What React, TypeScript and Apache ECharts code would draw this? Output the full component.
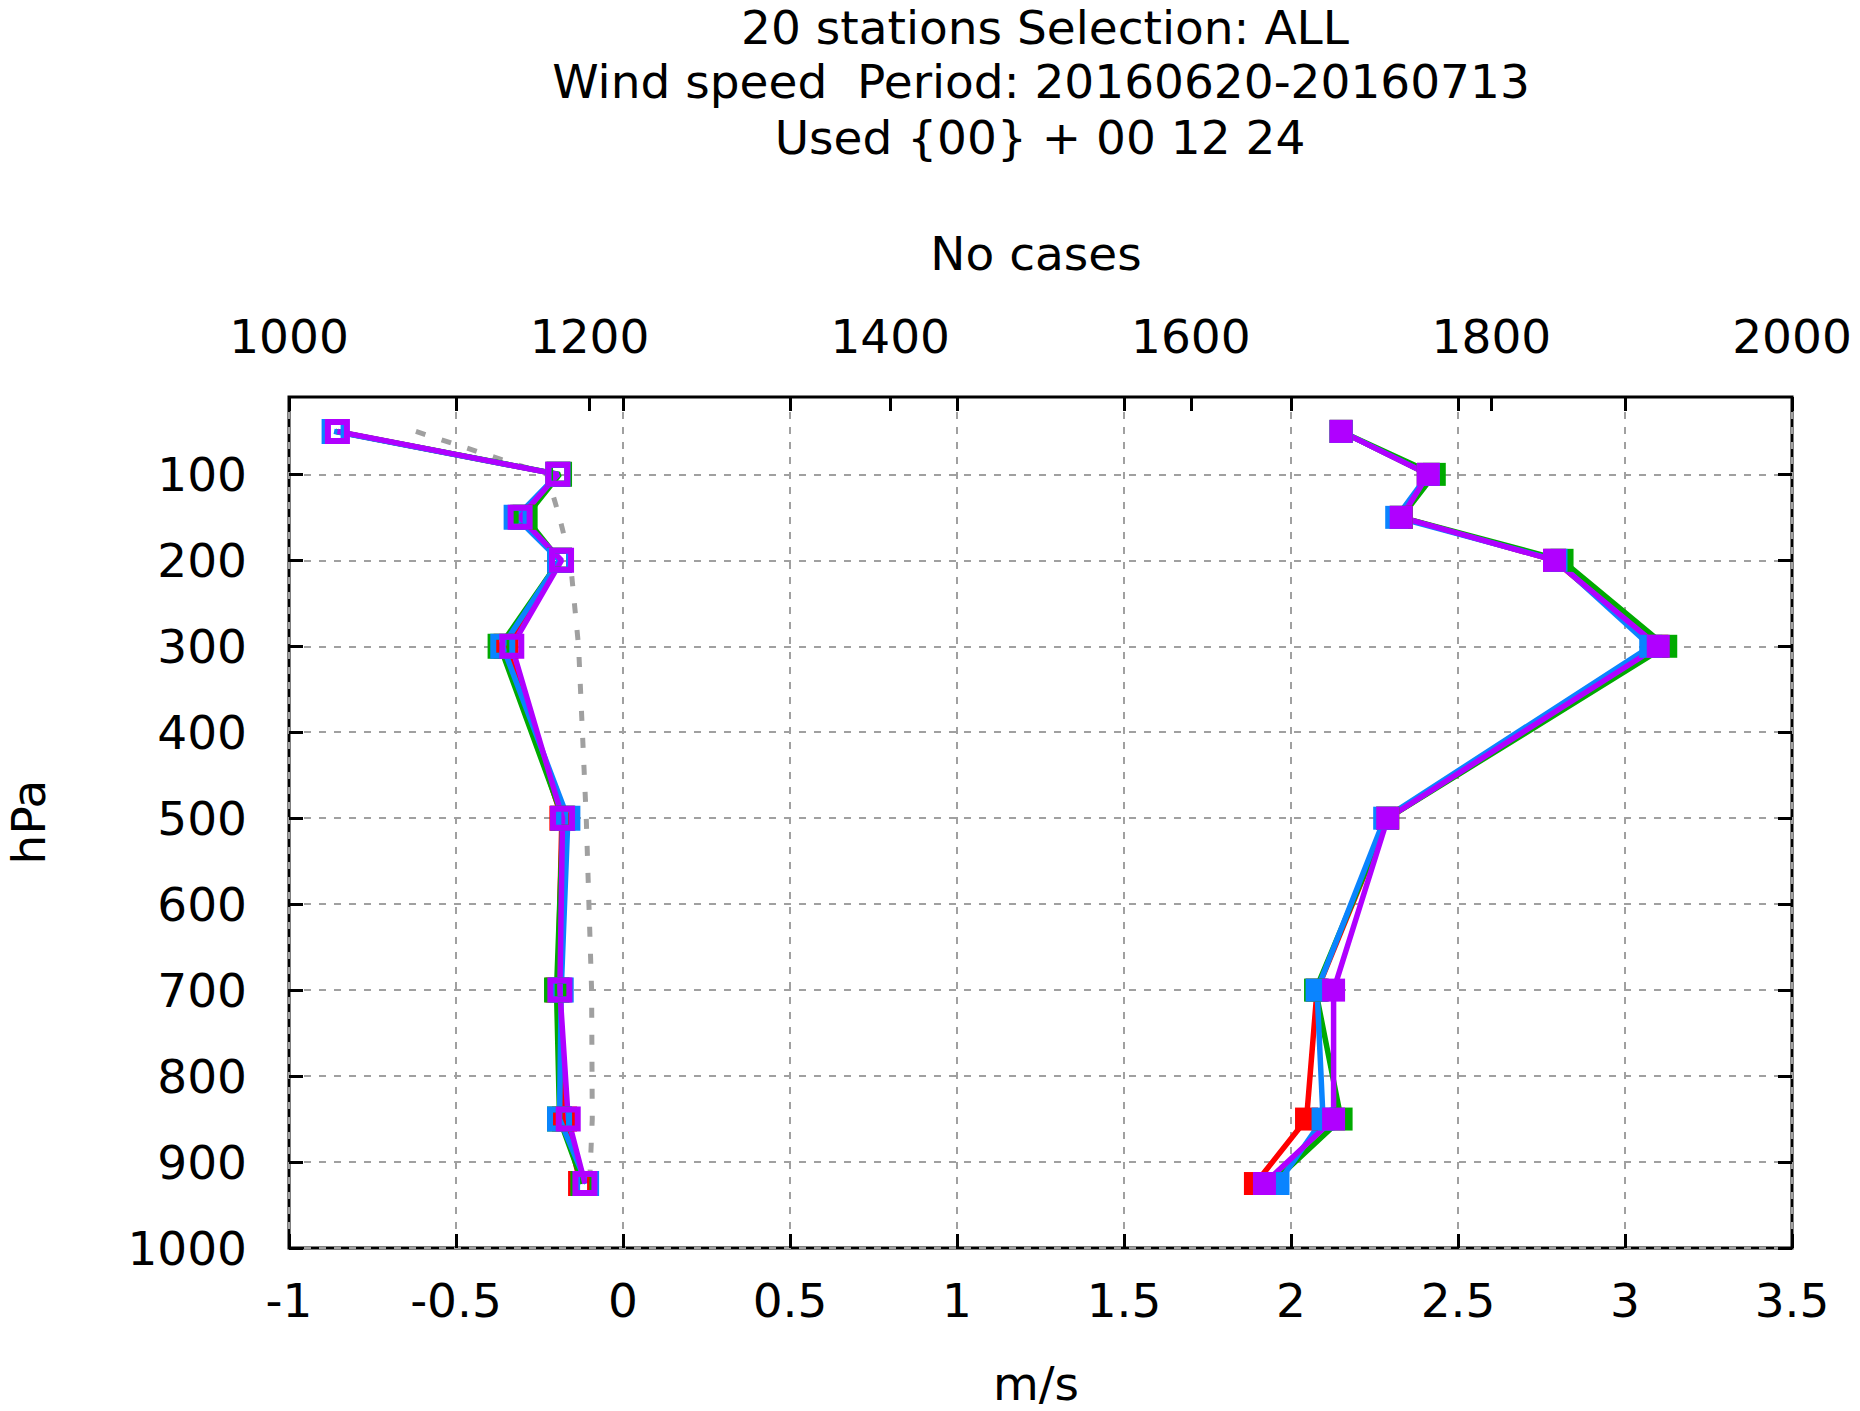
import * as echarts from 'echarts';
import { useEffect, useRef } from 'react';

// pressure levels (hPa) of the profile points
const levels = [50, 100, 150, 200, 300, 500, 700, 850, 925];
const yTicks = [100, 200, 300, 400, 500, 600, 700, 800, 900, 1000];

// bias, m/s (bottom axis)
const biasRed = [-0.86, -0.195, -0.3, -0.19, -0.35, -0.183, -0.195, -0.175, -0.127];
const biasGreen = [-0.86, -0.19, -0.293, -0.19, -0.368, -0.18, -0.199, -0.19, -0.12];
const biasBlue = [-0.865, -0.195, -0.32, -0.19, -0.36, -0.165, -0.185, -0.19, -0.109];
const biasPurple = [-0.855, -0.195, -0.308, -0.184, -0.333, -0.181, -0.189, -0.164, -0.114];
const biasRef = [-0.62, -0.228, -0.19, -0.158, -0.133, -0.11, -0.094, -0.092, -0.1];

// number of cases (top axis)
const casesRed = [1700, 1758, 1740, 1842, 1910, 1731, 1684, 1677, 1643];
const casesGreen = [1700, 1762, 1740, 1847, 1916, 1731, 1683, 1700, 1654];
const casesBlue = [1700, 1758, 1737, 1843, 1906, 1729, 1684, 1688, 1658];
const casesPurple = [1700, 1758, 1740, 1842, 1911, 1731, 1695, 1695, 1649];

const colors = ['#ff0000', '#00aa00', '#0a84ff', '#b000ff'];
const font = 'DejaVu Sans';

const pairs = (vals: number[]) => levels.map((p, i) => [vals[i], p]);

const App = () => {
    const chartDiv = useRef<HTMLDivElement>(null);

    useEffect(() => {
        const chart = echarts.init(chartDiv.current, null, { renderer: 'svg' });

        const gridRect = { left: 289, top: 397, right: 68, bottom: 163 };
        const noLine = { show: false, onZero: false };
        const tickStyle = { inside: true, length: 14, lineStyle: { color: '#000', width: 3 } };
        const labelStyle = {
            color: '#000',
            fontSize: 47,
            fontFamily: font,
            formatter: (v: number) => String(v)
        };
        const gridLine = { show: true, lineStyle: { color: '#a0a0a0', width: 2, type: [7, 8] } };

        const biasSeries = [biasRed, biasGreen, biasBlue, biasPurple].map((vals, i) => ({
            type: 'line',
            xAxisIndex: 0,
            yAxisIndex: 0,
            data: pairs(vals),
            symbol: 'rect',
            symbolSize: 19,
            showAllSymbol: true,
            lineStyle: { color: colors[i], width: 5.5 },
            itemStyle: { color: 'rgba(0,0,0,0)', borderColor: colors[i], borderWidth: 6 }
        }));

        const casesSeries = [casesRed, casesGreen, casesBlue, casesPurple].map((vals, i) => ({
            type: 'line',
            xAxisIndex: 1,
            yAxisIndex: 0,
            data: pairs(vals),
            symbol: 'rect',
            symbolSize: 23,
            showAllSymbol: true,
            lineStyle: { color: colors[i], width: 5.5 },
            itemStyle: { color: colors[i] }
        }));

        const text = (t: string, x: number, y: number, rotation = 0) => ({
            type: 'text',
            x,
            y,
            rotation,
            style: {
                text: t,
                fill: '#000',
                font: `47px "${font}"`,
                textAlign: 'center',
                textVerticalAlign: 'middle'
            }
        });

        chart.setOption({
            animation: false,
            backgroundColor: '#fff',
            grid: [
                { ...gridRect, show: true, borderColor: '#000', borderWidth: 3, backgroundColor: 'transparent' },
                { ...gridRect, show: false }
            ],
            xAxis: [
                {
                    type: 'value',
                    gridIndex: 0,
                    position: 'bottom',
                    min: -1,
                    max: 3.5,
                    interval: 0.5,
                    axisLine: noLine,
                    axisTick: tickStyle,
                    axisLabel: { ...labelStyle, margin: 29 },
                    splitLine: gridLine
                },
                {
                    type: 'value',
                    gridIndex: 0,
                    position: 'top',
                    min: 1000,
                    max: 2000,
                    interval: 200,
                    axisLine: noLine,
                    axisTick: tickStyle,
                    axisLabel: { ...labelStyle, margin: 37 },
                    splitLine: { show: false }
                },
                {
                    // mirrored ticks of the m/s axis along the top border
                    type: 'value',
                    gridIndex: 1,
                    position: 'top',
                    min: -1,
                    max: 3.5,
                    interval: 0.5,
                    axisLine: noLine,
                    axisTick: tickStyle,
                    axisLabel: { show: false },
                    splitLine: { show: false }
                }
            ],
            yAxis: [
                {
                    type: 'value',
                    gridIndex: 0,
                    position: 'left',
                    inverse: true,
                    min: 10,
                    max: 1000,
                    axisLine: noLine,
                    axisTick: { ...tickStyle, customValues: yTicks },
                    axisLabel: { ...labelStyle, margin: 42, customValues: yTicks },
                    splitLine: gridLine
                },
                {
                    // mirrored ticks along the right border
                    type: 'value',
                    gridIndex: 1,
                    position: 'right',
                    inverse: true,
                    min: 10,
                    max: 1000,
                    axisLine: noLine,
                    axisTick: { ...tickStyle, customValues: yTicks },
                    axisLabel: { show: false, customValues: yTicks },
                    splitLine: { show: false }
                }
            ],
            graphic: [
                text('20 stations Selection: ALL', 1045, 27),
                text('Wind speed  Period: 20160620-20160713', 1041, 81),
                text('Used {00} + 00 12 24', 1040, 137),
                text('No cases', 1036, 253),
                text('m/s', 1036, 1383),
                text('hPa', 28, 822, Math.PI / 2)
            ],
            series: [
                {
                    type: 'line',
                    xAxisIndex: 0,
                    yAxisIndex: 0,
                    data: pairs(biasRef),
                    showSymbol: false,
                    lineStyle: { color: '#a0a0a0', width: 5, type: [10, 17] }
                },
                ...biasSeries,
                ...casesSeries
            ]
        });

        return () => {
            chart.dispose();
        };
    }, []);

    return (
        <div
            ref={chartDiv}
            style={{ position: 'fixed', left: 0, top: 0, width: '1860px', height: '1411px' }}
        />
    );
};

export default App;
